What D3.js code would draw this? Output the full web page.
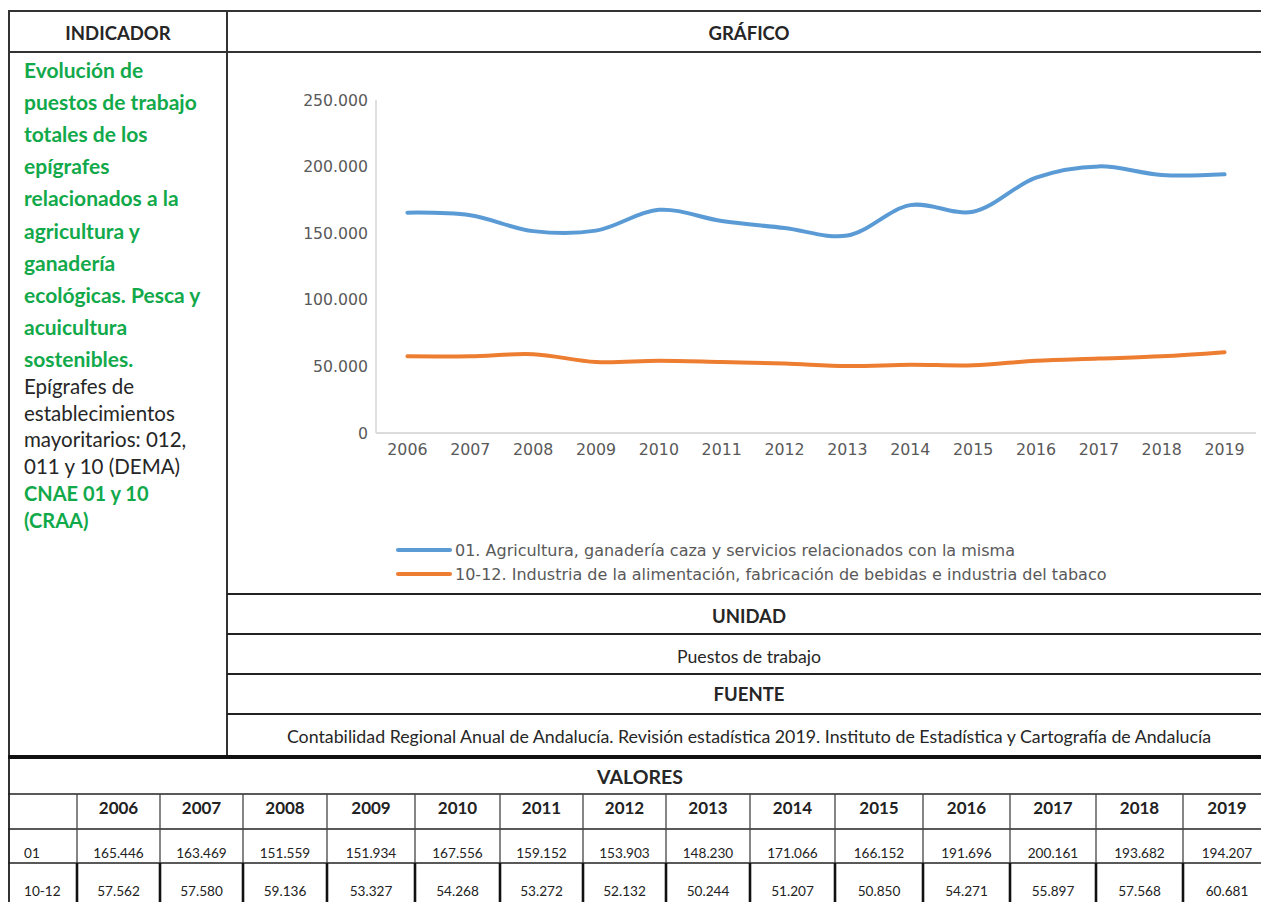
<!DOCTYPE html>
<html>
<head>
<meta charset="utf-8">
<script src="https://cdn.jsdelivr.net/npm/d3@7"></script>
<style>
  body { margin: 0; background: #fff; }
  svg { display: block; }
</style>
</head>
<body>
<div id="ficha"></div>
<script>
// datos del gráfico
const years = [2006, 2007, 2008, 2009, 2010, 2011, 2012, 2013, 2014, 2015, 2016, 2017, 2018, 2019];
const agricultura = [165446, 163469, 151559, 151934, 167556, 159152, 153903, 148230, 171066, 166152, 191696, 200161, 193682, 194207];
const industria = [57562, 57580, 59136, 53327, 54268, 53272, 52132, 50244, 51207, 50850, 54271, 55897, 57568, 60681];
const seriesNames = [
  "01. Agricultura, ganadería caza y servicios relacionados con la misma",
  "10-12. Industria de la alimentación, fabricación de bebidas e industria del tabaco"
];
const rowLabels = ["01", "10-12"];
const yTicks = [0, 50000, 100000, 150000, 200000, 250000];

const greenLines = ["Evolución de", "puestos de trabajo", "totales de los", "epígrafes",
  "relacionados a la", "agricultura y", "ganadería", "ecológicas. Pesca y", "acuicultura", "sostenibles."];
const blackLines = ["Epígrafes de", "establecimientos", "mayoritarios: 012,", "011 y 10 (DEMA)"];
const greenLines2 = ["CNAE 01 y 10", "(CRAA)"];

const W = 1261, H = 902;
const green = "#12A94B", dark = "#262626", lineCol = "#333";
const fmt = d3.formatLocale({decimal: ",", thousands: ".", grouping: [3], currency: ["", "€"]}).format(",");

const svg = d3.select("#ficha").append("svg")
  .attr("width", W).attr("height", H);

// marco de la ficha
const hline = (y, x1, x2, w, c) => svg.append("line")
  .attr("x1", x1).attr("x2", x2).attr("y1", y).attr("y2", y)
  .attr("stroke", c || lineCol).attr("stroke-width", w || 2);
const vline = (x, y1, y2, w, c) => svg.append("line")
  .attr("x1", x).attr("x2", x).attr("y1", y1).attr("y2", y2)
  .attr("stroke", c || lineCol).attr("stroke-width", w || 2);

hline(11, 8, W);
hline(52, 8, W);
vline(9, 10, H);
vline(227, 10, 757);
[594, 634, 674, 714].forEach(y => hline(y, 227, W, 1.8, "#222"));
hline(757, 8, W, 4, "#111");

const centerR = 749;
const label = (x, y, t, opts) => svg.append("text")
  .attr("x", x).attr("y", y).attr("text-anchor", (opts && opts.anchor) || "middle")
  .attr("font-family", "Lato, sans-serif")
  .attr("font-size", (opts && opts.size) || 16)
  .attr("font-weight", (opts && opts.bold) ? 700 : 400)
  .attr("fill", (opts && opts.fill) || dark)
  .text(t);

label(118, 40, "INDICADOR", {size: 18.5, bold: true});
label(centerR, 40, "GRÁFICO", {size: 18.5, bold: true});
label(centerR, 623, "UNIDAD", {size: 18.5, bold: true});
label(centerR, 663, "Puestos de trabajo", {size: 17.7});
label(centerR, 701, "FUENTE", {size: 18.5, bold: true});
label(centerR, 743, "Contabilidad Regional Anual de Andalucía. Revisión estadística 2019. Instituto de Estadística y Cartografía de Andalucía", {size: 17.8});

// texto del indicador
greenLines.forEach((t, i) => label(24, 78 + i * 32.1, t, {anchor: "start", size: 21, bold: true, fill: green}));
blackLines.forEach((t, i) => label(24, 394 + i * 26.6, t, {anchor: "start", size: 20.5}));
greenLines2.forEach((t, i) => label(24, 501 + i * 26.6, t, {anchor: "start", size: 20, bold: true, fill: green}));

// gráfico de líneas
const x = d3.scalePoint().domain(years).range([376, 1256]).padding(0.5);
const y = d3.scaleLinear().domain([0, 250000]).range([433, 100]);

const chart = svg.append("g");
const chartFont = "'DejaVu Sans', sans-serif";

chart.append("line").attr("x1", 376).attr("x2", 376).attr("y1", 100).attr("y2", 433)
  .attr("stroke", "#d0d0d0").attr("stroke-width", 1.3);
chart.append("line").attr("x1", 376).attr("x2", 1256).attr("y1", 433).attr("y2", 433)
  .attr("stroke", "#d0d0d0").attr("stroke-width", 1.3);

chart.selectAll(".ytick").data(yTicks).enter().append("text")
  .attr("class", "ytick")
  .attr("x", 368).attr("y", d => y(d) + 5.5)
  .attr("text-anchor", "end").attr("font-family", chartFont)
  .attr("font-size", 15.7).attr("fill", "#595959")
  .text(d => d === 0 ? "0" : fmt(d));

chart.selectAll(".xtick").data(years).enter().append("text")
  .attr("class", "xtick")
  .attr("x", d => x(d)).attr("y", 455)
  .attr("text-anchor", "middle").attr("font-family", chartFont)
  .attr("font-size", 15.8).attr("fill", "#595959")
  .text(d => d);

const color = d3.scaleOrdinal().domain(seriesNames).range(["#5B9BD5", "#ED7D31"]);
const series = [agricultura, industria];

const line = d3.line()
  .x((d, i) => x(years[i]))
  .y(d => y(d))
  .curve(d3.curveCatmullRom.alpha(0.5));

chart.selectAll(".serie").data(series).enter().append("path")
  .attr("class", "serie")
  .attr("d", line)
  .attr("fill", "none")
  .attr("stroke", (d, i) => color(seriesNames[i]))
  .attr("stroke-width", 4)
  .attr("stroke-linecap", "round");

// leyenda
const legend = chart.selectAll(".leg").data(seriesNames).enter().append("g")
  .attr("class", "leg")
  .attr("transform", (d, i) => "translate(398," + (550 + i * 24) + ")");
legend.append("line").attr("x1", 0).attr("x2", 52).attr("y1", 0).attr("y2", 0)
  .attr("stroke", d => color(d)).attr("stroke-width", 4).attr("stroke-linecap", "round");
legend.append("text").attr("x", 57).attr("y", 5.5)
  .attr("font-family", chartFont)
  .attr("font-size", 16).attr("fill", "#595959")
  .text(d => d);

// tabla de valores
const cols = [9, 77, 160, 243, 327, 415, 500, 583, 666, 750, 835, 923, 1010, 1096, 1183, 1271];
const rowsY = [794, 829, 863];

label(640, 784, "VALORES", {size: 19.5, bold: true});
rowsY.forEach(yy => hline(yy, 8, W, 1.6, "#222"));
cols.slice(1, -1).forEach(cx => {
  vline(cx, 794, 863, 1.3, "#444");
  vline(cx, 863, H, 2.6, "#111");
});

const table = svg.append("g").attr("font-family", "Lato, sans-serif");
years.forEach((yr, i) => {
  const cx = (cols[i + 1] + cols[i + 2]) / 2;
  table.append("text").attr("x", cx).attr("y", 814).attr("text-anchor", "middle")
    .attr("font-size", 17).attr("font-weight", 700).attr("fill", "#222").text(yr);
  table.append("text").attr("x", cx).attr("y", 858).attr("text-anchor", "middle")
    .attr("font-size", 13.6).attr("fill", "#222").text(fmt(agricultura[i]));
  table.append("text").attr("x", cx).attr("y", 896).attr("text-anchor", "middle")
    .attr("font-size", 13.6).attr("fill", "#222").text(fmt(industria[i]));
});
rowLabels.forEach((t, i) => table.append("text")
  .attr("x", 24).attr("y", i === 0 ? 858 : 896)
  .attr("font-size", 13.6).attr("fill", "#222").text(t));
</script>
</body>
</html>
